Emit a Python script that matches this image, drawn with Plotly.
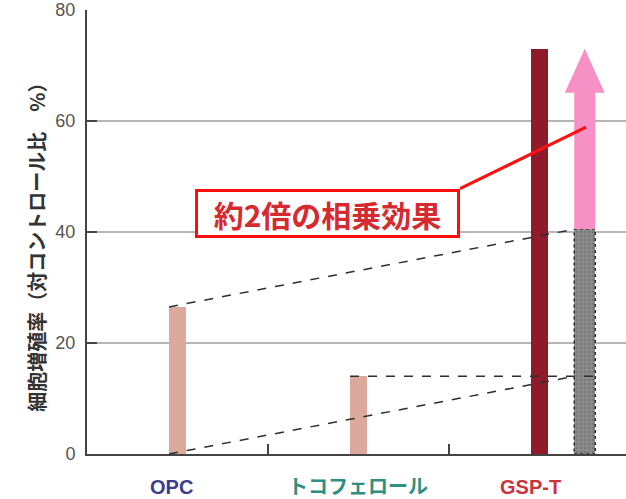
import plotly.graph_objects as go

# Cell proliferation rate (% of control)
categories = ["OPC", "トコフェロール", "GSP-T"]
measured = [26.5, 14.0, 73.0]          # OPC, tocopherol, GSP-T
label_colors = ["#3d3d8c", "#2f8f80", "#c8333d"]
y_ticks = [0, 20, 40, 60, 80]
grid_values = [20, 40, 60]
callout_text = "約2倍の相乗効果"
y_title = "細胞増殖率（対コントロール比　%）"

opc, toco, gsp = measured
additive = opc + toco                  # expected additive effect

bar_w = 0.094
sum_x = 2.25                           # position of the additive-sum bar
sum_w = 0.116

fig = go.Figure()

# measured bars
fig.add_trace(go.Bar(
    x=[0, 1, 2], y=measured, width=bar_w,
    marker=dict(color=["#dca99d", "#dca99d", "#8e1a2b"], line=dict(width=0)),
    showlegend=False, hoverinfo="skip",
))

# additive sum bar (grainy gray)
fig.add_trace(go.Bar(
    x=[sum_x], y=[additive], width=sum_w,
    marker=dict(color="#808080", line=dict(width=0),
                pattern=dict(shape=".", fgcolor="#616161", bgcolor="#8c8c8c",
                             size=4, solidity=0.3)),
    showlegend=False, hoverinfo="skip",
))

# dashed outline of the sum bar
xl, xr = sum_x - sum_w / 2, sum_x + sum_w / 2
fig.add_trace(go.Scatter(
    x=[xl, xr, xr, xl, xl], y=[0, 0, additive, additive, 0],
    mode="lines", line=dict(color="#2a2a2a", width=1.5, dash="dot"),
    showlegend=False, hoverinfo="skip",
))

# pink arrow from additive level up to the measured GSP-T level
sw = sum_w / 2
hw = 0.11
hh = 7.9
arrow_x = [sum_x - sw, sum_x + sw, sum_x + sw, sum_x + hw, sum_x,
           sum_x - hw, sum_x - sw, sum_x - sw]
arrow_y = [additive, additive, gsp - hh, gsp - hh, gsp,
           gsp - hh, gsp - hh, additive]
fig.add_trace(go.Scatter(
    x=arrow_x, y=arrow_y, mode="lines", fill="toself",
    fillcolor="#f790c4", line=dict(width=0, color="#f790c4"),
    showlegend=False, hoverinfo="skip",
))

# dashed guide lines showing OPC stacked on tocopherol
dash_style = dict(color="#2e2e2e", width=1.5, dash="dash")
guides = [
    ([0 - bar_w / 2, xl], [0, toco]),
    ([0 - bar_w / 2, xl], [opc, additive]),
    ([1 - bar_w / 2, xr], [toco, toco]),
]
for gx, gy in guides:
    fig.add_trace(go.Scatter(x=gx, y=gy, mode="lines", line=dash_style,
                             showlegend=False, hoverinfo="skip"))

shapes = []
for g in grid_values:
    shapes.append(dict(type="line", xref="paper", x0=0, x1=1, yref="y",
                       y0=g, y1=g, line=dict(color="#9c9c9c", width=1.5),
                       layer="below"))

# connector from the callout box to the arrow
shapes.append(dict(type="line", xref="x", yref="y",
                   x0=1.561, y0=47.8, x1=sum_x + 0.007, y1=58.9,
                   line=dict(color="#ff1010", width=3), layer="above"))

annotations = [
    dict(x=0.829, y=43.3, xref="x", yref="y", text=f"<b>{callout_text}</b>",
         showarrow=False, font=dict(family="Noto Sans CJK JP", size=30,
                                    color="#d52a30"),
         bgcolor="white", bordercolor="#ff0d0d", borderwidth=3, borderpad=0,
         width=259, height=43, xshift=0),
    dict(x=-0.1243, y=0.477, xref="paper", yref="paper",
         text=f"<b>{y_title}</b>", textangle=-90, showarrow=False,
         font=dict(family="Noto Sans CJK JP", size=20, color="#333333")),
]
label_shift = [-6, 0, -9]
for i, (cat, col) in enumerate(zip(categories, label_colors)):
    annotations.append(dict(
        x=i, y=0, xref="x", yref="paper", yanchor="middle",
        yshift=-33, xshift=label_shift[i], text=f"<b>{cat}</b>",
        showarrow=False,
        font=dict(family="Liberation Sans, Noto Sans CJK JP", size=20,
                  color=col)))

fig.update_layout(
    width=626, height=499,
    margin=dict(l=87, r=0, t=10, b=45),
    paper_bgcolor="white", plot_bgcolor="white",
    barmode="overlay", bargap=0,
    shapes=shapes, annotations=annotations,
    xaxis=dict(range=[-0.5, 2.478], tickvals=[0.5, 1.5], showticklabels=False,
               ticks="inside", ticklen=10, tickwidth=1.5, tickcolor="#444444",
               showline=True, linecolor="#444444", linewidth=2,
               showgrid=False, zeroline=False),
    yaxis=dict(range=[0, 80], tickvals=y_ticks, ticks="inside", ticklen=10,
               tickwidth=1.5, tickcolor="#444444",
               showline=True, linecolor="#444444", linewidth=2,
               showgrid=False, zeroline=False, ticklabelstandoff=6,
               tickfont=dict(family="Liberation Sans", size=18,
                             color="#555555")),
)

fig.write_html("out.html")
